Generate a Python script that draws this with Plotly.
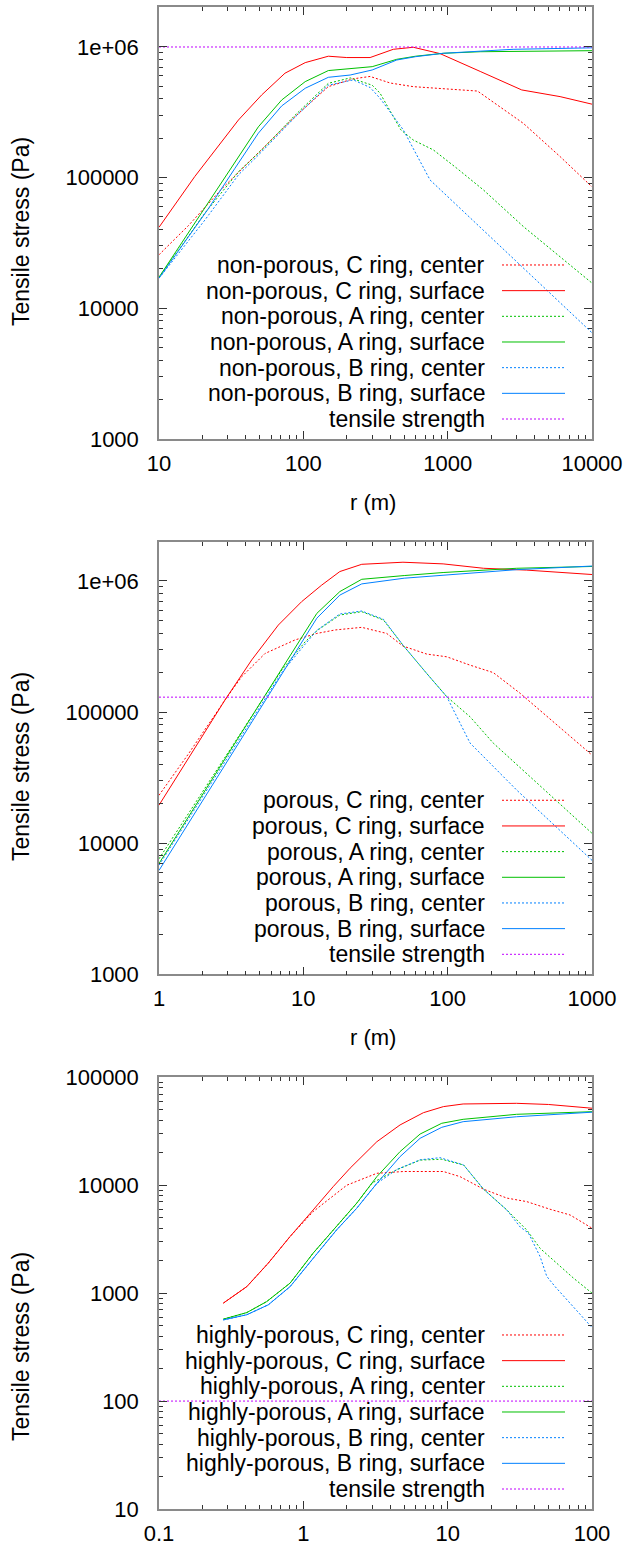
import numpy as np
import plotly.graph_objects as go

# ---------------- Panel 1: non-porous ----------------
np_c_center_r = [10, 16, 27.2, 51.5, 87.5, 149, 220, 290, 400, 578, 1157, 1610, 3350, 6010, 10000]
np_c_center_s = [2.57e4, 4.3e4, 8.2e4, 1.63e5, 2.93e5, 4.97e5, 5.7e5, 5.95e5, 5.3e5, 4.97e5, 4.74e5, 4.6e5, 2.6e5, 1.45e5, 8.5e4]
np_c_surface_r = [10, 17.7, 35.5, 51.5, 74.6, 103, 149, 200, 290, 420, 578, 885, 1680, 3260, 6010, 10000]
np_c_surface_s = [4.17e4, 1.02e5, 2.76e5, 4.3e5, 6.3e5, 7.59e5, 8.5e5, 8.3e5, 8.3e5, 9.6e5, 9.95e5, 8.9e5, 6.5e5, 4.69e5, 4.17e5, 3.65e5]
np_a_center_r = [10, 20.8, 35.5, 51.5, 87.5, 149, 211, 300, 340, 474, 578, 796, 1157, 1770, 3350, 6010, 10000]
np_a_center_s = [1.73e4, 5.35e4, 1.11e5, 1.63e5, 3.0e5, 5.27e5, 5.8e5, 5.1e5, 4.43e5, 2.32e5, 1.94e5, 1.63e5, 1.18e5, 8.05e4, 4.22e4, 2.49e4, 1.56e4]
np_a_surface_r = [10, 12.9, 22, 33.6, 48.8, 70.8, 103, 149, 211, 300, 444, 600, 935, 1680, 10000]
np_a_surface_s = [1.73e4, 2.64e4, 6.4e4, 1.32e5, 2.45e5, 3.93e5, 5.43e5, 6.6e5, 6.87e5, 7.07e5, 8.05e5, 8.5e5, 8.95e5, 9.2e5, 9.37e5]
np_b_center_r = [10, 20.8, 35.5, 51.5, 87.5, 149, 222, 290, 340, 493, 755, 3180, 10000]
np_b_center_s = [1.7e4, 4.74e4, 1.05e5, 1.58e5, 2.9e5, 5.1e5, 5.6e5, 4.9e5, 4.05e5, 2.32e5, 9.6e4, 2.15e4, 6.5e3]
np_b_surface_r = [10, 22, 33.6, 48.8, 70.8, 103, 149, 211, 300, 444, 600, 935, 2840, 10000]
np_b_surface_s = [1.7e4, 5.8e4, 1.18e5, 2.19e5, 3.54e5, 4.83e5, 5.86e5, 6.1e5, 6.67e5, 7.95e5, 8.43e5, 8.95e5, 9.6e5, 9.85e5]
np_strength = 1e6

# ---------------- Panel 2: porous ----------------
p_c_center_r = [1, 1.6, 2.87, 3.74, 5.43, 8.75, 12.4, 16.6, 25.4, 37.8, 49, 71.6, 98.6, 143, 207, 318, 1000]
p_c_center_s = [2.32e4, 4.8e4, 1.24e5, 1.86e5, 2.8e5, 3.55e5, 3.98e5, 4.23e5, 4.43e5, 3.98e5, 3.19e5, 2.77e5, 2.64e5, 2.28e5, 2.0e5, 1.39e5, 4.7e4]
p_c_surface_r = [1, 1.6, 2.87, 4.39, 6.71, 9.74, 13.4, 17.9, 25.4, 49, 93, 177, 353, 1000]
p_c_surface_s = [1.95e4, 4.4e4, 1.24e5, 2.5e5, 4.61e5, 6.96e5, 9.3e5, 1.18e6, 1.34e6, 1.39e6, 1.35e6, 1.25e6, 1.21e6, 1.12e6]
p_a_center_r = [1, 3, 7.08, 10.3, 12.5, 17.9, 25.4, 35.9, 49, 71.6, 98.6, 143, 207, 460, 1000]
p_a_center_s = [7.6e3, 4.9e4, 2.09e5, 3.44e5, 4.2e5, 5.5e5, 5.83e5, 5.04e5, 3.24e5, 1.97e5, 1.31e5, 9.2e4, 5.8e4, 2.6e4, 1.19e4]
p_a_surface_r = [1, 12.4, 17.9, 25.4, 50, 93, 301, 1000]
p_a_surface_s = [7.0e3, 5.66e5, 8.3e5, 1.03e6, 1.1e6, 1.16e6, 1.25e6, 1.29e6]
p_b_center_r = [1, 7.08, 10.3, 12.4, 17.9, 25.4, 35.9, 49, 71.6, 98.6, 143, 301, 1000]
p_b_center_s = [6.8e3, 2.0e5, 3.3e5, 4.2e5, 5.6e5, 5.9e5, 5.1e5, 3.24e5, 1.97e5, 1.31e5, 5.8e4, 2.54e4, 7.4e3]
p_b_surface_r = [1, 12.4, 17.9, 25.4, 50, 93, 301, 1000]
p_b_surface_s = [6.2e3, 5.2e5, 7.8e5, 9.5e5, 1.05e6, 1.11e6, 1.22e6, 1.3e6]
p_strength = 1.3e5

# ---------------- Panel 3: highly-porous ----------------
hp_c_center_r = [0.279, 0.406, 0.572, 0.81, 1.17, 2.0, 3.23, 4.93, 9.34, 12.2, 17.7, 25.7, 35.3, 51, 70.5, 100]
hp_c_center_s = [808, 1150, 1900, 3350, 5700, 1.0e4, 1.29e4, 1.34e4, 1.34e4, 1.2e4, 9.2e3, 7.6e3, 7.05e3, 6.0e3, 5.3e3, 4.0e3]
hp_c_surface_r = [0.279, 0.406, 0.572, 0.81, 1.17, 1.61, 2.11, 3.23, 4.68, 6.79, 9.34, 12.8, 30, 50, 100]
hp_c_surface_s = [808, 1150, 1900, 3350, 5900, 9700, 1.44e4, 2.53e4, 3.62e4, 4.7e4, 5.35e4, 5.66e4, 5.74e4, 5.6e4, 5.17e4]
hp_a_center_r = [0.279, 0.406, 0.557, 0.81, 1.17, 1.61, 2.34, 3.0, 4.44, 6.44, 9.1, 12.9, 17.7, 25.7, 35.3, 43.7, 57, 74.3, 100]
hp_a_center_s = [574, 661, 835, 1240, 2350, 3850, 6800, 1.05e4, 1.39e4, 1.71e4, 1.74e4, 1.54e4, 9.2e3, 5.9e3, 3.85e3, 2.6e3, 1.9e3, 1.38e3, 1.0e3]
hp_a_surface_r = [0.279, 0.406, 0.557, 0.81, 1.17, 1.61, 2.34, 3.23, 4.68, 6.44, 9.1, 12.8, 30, 100]
hp_a_surface_s = [574, 661, 835, 1240, 2350, 3850, 6800, 1.2e4, 2.05e4, 2.98e4, 3.75e4, 4.08e4, 4.54e4, 4.8e4]
hp_b_center_r = [0.279, 0.406, 0.572, 0.81, 1.17, 1.7, 2.34, 3.23, 4.44, 6.44, 8.85, 12.9, 17.7, 25.7, 31.8, 36.3, 43.7, 48.6, 55.5, 74.3, 100]
hp_b_center_s = [565, 631, 780, 1150, 2100, 3850, 6100, 1.04e4, 1.4e4, 1.72e4, 1.8e4, 1.54e4, 9.2e3, 5.9e3, 4.1e3, 3.6e3, 2.18e3, 1.43e3, 1.15e3, 752, 480]
hp_b_surface_r = [0.279, 0.406, 0.572, 0.81, 1.17, 1.7, 2.34, 3.23, 4.68, 6.44, 9.1, 12.8, 30, 100]
hp_b_surface_s = [565, 631, 780, 1150, 2100, 3850, 6100, 1.04e4, 1.84e4, 2.72e4, 3.44e4, 3.88e4, 4.31e4, 4.75e4]
hp_strength = 100

# axis ticks
np_x_ticks = [10, 100, 1000, 10000]
np_x_labels = ["10", "100", "1000", "10000"]
p_x_ticks = [1, 10, 100, 1000]
p_x_labels = ["1", "10", "100", "1000"]
hp_x_ticks = [0.1, 1, 10, 100]
hp_x_labels = ["0.1", "1", "10", "100"]
y_ticks_12 = [1000, 10000, 100000, 1e6]
y_labels_12 = ["1000", "10000", "100000", "1e+06"]
y_ticks_3 = [10, 100, 1000, 10000, 100000]
y_labels_3 = ["10", "100", "1000", "10000", "100000"]

RED, GREEN, BLUE, PURPLE = "#ff0000", "#00c000", "#0080ff", "#c000ff"
DOT = "2px,2px"
FONT = "Liberation Sans"
FS = 22
FS_KEY = 23

panels = [
    dict(prefix="non-porous", xr=[1, 4], yr=[3, 6.306], xt=np_x_ticks, xl=np_x_labels,
         yt=y_ticks_12, yl=y_labels_12, strength=np_strength,
         series=[(np_c_center_r, np_c_center_s), (np_c_surface_r, np_c_surface_s),
                 (np_a_center_r, np_a_center_s), (np_a_surface_r, np_a_surface_s),
                 (np_b_center_r, np_b_center_s), (np_b_surface_r, np_b_surface_s)],
         px=(7, 439), xtitle=True, ylab_y=232),
    dict(prefix="porous", xr=[0, 3], yr=[3, 6.295], xt=p_x_ticks, xl=p_x_labels,
         yt=y_ticks_12, yl=y_labels_12, strength=p_strength,
         series=[(p_c_center_r, p_c_center_s), (p_c_surface_r, p_c_surface_s),
                 (p_a_center_r, p_a_center_s), (p_a_surface_r, p_a_surface_s),
                 (p_b_center_r, p_b_center_s), (p_b_surface_r, p_b_surface_s)],
         px=(542.3, 974.3), xtitle=True, ylab_y=767),
    dict(prefix="highly-porous", xr=[-1, 2], yr=[1, 5], xt=hp_x_ticks, xl=hp_x_labels,
         yt=y_ticks_3, yl=y_labels_3, strength=hp_strength,
         series=[(hp_c_center_r, hp_c_center_s), (hp_c_surface_r, hp_c_surface_s),
                 (hp_a_center_r, hp_a_center_s), (hp_a_surface_r, hp_a_surface_s),
                 (hp_b_center_r, hp_b_center_s), (hp_b_surface_r, hp_b_surface_s)],
         px=(1077.3, 1509), xtitle=False, ylab_y=1347),
]

styles = [(RED, DOT, "C ring, center"), (RED, "solid", "C ring, surface"),
          (GREEN, DOT, "A ring, center"), (GREEN, "solid", "A ring, surface"),
          (BLUE, DOT, "B ring, center"), (BLUE, "solid", "B ring, surface")]

W, H = 627, 1546
PL, PR = 159, 592


def minor_vals(lo, hi):
    out = []
    for d in range(int(np.floor(lo)), int(np.ceil(hi)) + 1):
        for m in range(2, 10):
            v = m * 10.0 ** d
            if 10 ** lo < v < 10 ** hi:
                out.append(v)
    return out


fig = go.Figure()
layout = dict(width=W, height=H, autosize=False, margin=dict(l=0, r=0, t=0, b=0, pad=0),
              paper_bgcolor="white", plot_bgcolor="white", showlegend=False)
annotations = []
shapes = []

for i, p in enumerate(panels):
    n = "" if i == 0 else str(i + 1)
    xref, yref = "x" + n, "y" + n
    for (r, s), (col, dash, lab) in zip(p["series"], styles):
        fig.add_trace(go.Scatter(x=r, y=s, mode="lines", xaxis=xref, yaxis=yref,
                                 line=dict(color=col, width=1, dash=dash),
                                 name=p["prefix"] + ", " + lab, hoverinfo="skip"))
    fig.add_trace(go.Scatter(x=[10 ** p["xr"][0], 10 ** p["xr"][1]], y=[p["strength"]] * 2,
                             mode="lines", xaxis=xref, yaxis=yref,
                             line=dict(color=PURPLE, width=1, dash=DOT),
                             name="tensile strength", hoverinfo="skip"))
    top, bot = p["px"]
    common = dict(type="log", showline=True, linecolor="#8a8a8a", linewidth=1.5,
                  mirror="allticks", ticks="inside", ticklen=8, tickwidth=1, tickcolor="#333",
                  showgrid=False, zeroline=False, tickmode="array", automargin=False,
                  tickfont=dict(family=FONT, size=FS, color="black"))
    layout["xaxis" + n] = dict(common, domain=[PL / W, PR / W], range=p["xr"], anchor=yref,
                               tickvals=p["xt"], ticktext=p["xl"], ticklabelstandoff=4,
                               minor=dict(tickmode="array", tickvals=minor_vals(*p["xr"]),
                                          ticks="inside", ticklen=4, tickcolor="#333", showgrid=False))
    layout["yaxis" + n] = dict(common, domain=[1 - bot / H, 1 - top / H], range=p["yr"], anchor=xref,
                               tickvals=p["yt"], ticktext=p["yl"], ticklabelstandoff=14,
                               minor=dict(tickmode="array", tickvals=minor_vals(*p["yr"]),
                                          ticks="inside", ticklen=4, tickcolor="#333", showgrid=False))
    # axis titles
    annotations.append(dict(text="Tensile stress (Pa)", textangle=-90, x=21 / W, y=1 - p["ylab_y"] / H,
                            xref="paper", yref="paper", showarrow=False, xanchor="center", yanchor="middle",
                            font=dict(family=FONT, size=FS_KEY, color="black")))
    if p["xtitle"]:
        annotations.append(dict(text="r (m)", x=373 / W, y=1 - (bot + 63) / H, xref="paper", yref="paper",
                                showarrow=False, xanchor="center", yanchor="middle",
                                font=dict(family=FONT, size=FS, color="black")))
    # key
    labels = [p["prefix"] + ", " + lab for (_, _, lab) in styles] + ["tensile strength"]
    kstyles = [(c, d) for (c, d, _) in styles] + [(PURPLE, DOT)]
    for k, (lab, (col, dash)) in enumerate(zip(labels, kstyles)):
        yy = bot - 20 - (6 - k) * 25.67
        annotations.append(dict(text=lab, x=487 / W, y=1 - yy / H, xref="paper", yref="paper",
                                showarrow=False, xanchor="right", yanchor="middle",
                                font=dict(family=FONT, size=FS_KEY, color="black")))
        shapes.append(dict(type="line", xref="paper", yref="paper", x0=502 / W, x1=565 / W,
                           y0=1 - yy / H, y1=1 - yy / H, line=dict(color=col, width=1, dash=dash)))

layout["annotations"] = annotations
layout["shapes"] = shapes
fig.update_layout(**layout)
fig.write_html("out.html")
